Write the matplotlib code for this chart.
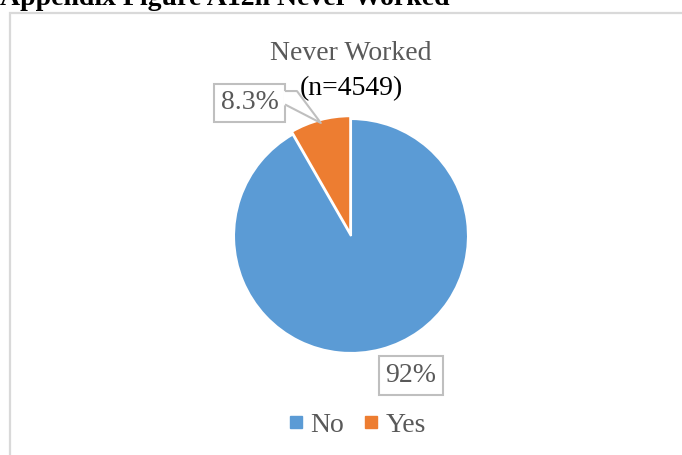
import numpy as np
import matplotlib.pyplot as plt
from matplotlib.patches import Rectangle, Polygon
from matplotlib.lines import Line2D

# data
categories = ['No', 'Yes']
shares = [91.7, 8.3]
label_text = ['92%', '8.3%']
colors = ['#5b9bd5', '#ed7d31']

plt.rcParams['font.family'] = ['Liberation Serif', 'DejaVu Serif']

fig = plt.figure(figsize=(6.82, 4.55), dpi=100)

# chart frame (Excel style), runs off the right/bottom edge
fig.patches.append(Rectangle((10 / 682, -0.1), 1.0, 1 - 13 / 455 + 0.1,
                             transform=fig.transFigure, fill=False,
                             edgecolor='#d9d9d9', linewidth=1.6, zorder=0))

# cut-off caption above the chart
fig.text(0.0, 1 - 5 / 455, 'Appendix Figure A12n Never Worked', fontsize=20,
         fontweight='bold', ha='left', va='baseline', color='black')

fig.text(0.515, 1 - 60 / 455, 'Never Worked', fontsize=20, ha='center',
         va='baseline', color='#595959')
fig.text(0.515, 1 - 95 / 455, '(n=4549)', fontsize=20, ha='center',
         va='baseline', color='black')

ax = fig.add_axes([(351 - 117) / 682, (455 - 353) / 455, 234 / 682, 234 / 455])
wedges, _ = ax.pie(shares, colors=colors, startangle=90, counterclock=False,
                   explode=[0, 0.025], radius=1.0,
                   wedgeprops=dict(edgecolor='white', linewidth=1.5))
ax.set_xlim(-1, 1)
ax.set_ylim(-1, 1)
ax.set_aspect('auto')
ax.axis('off')

box = dict(boxstyle='square,pad=0.25', fc='white', ec='#bfbfbf', lw=1.5)

# 92% label
ax.text(0.513, -1.19, label_text[0], fontsize=20, color='#595959',
        ha='center', va='center', bbox=box, clip_on=False)

# 8.3% callout box with pointer to the slice
w = wedges[1]
mid = np.deg2rad((w.theta1 + w.theta2) / 2)
tip = (1.0 * np.cos(mid), 1.0 * np.sin(mid))
bx, by = -0.868, 1.137
ax.text(bx, by, label_text[1], fontsize=20, color='#595959',
        ha='center', va='center', bbox=box, clip_on=False, zorder=5)
right = -0.556
pts = [(right, 1.239), (right + 0.094, 1.239), tip, (right, 1.12)]
ax.add_patch(Polygon([(right - 0.02, 1.239)] + pts[1:3] + [(right - 0.02, 1.12)],
                     closed=True, fc='white', ec='none', zorder=6, clip_on=False))
ax.add_line(Line2D([p[0] for p in pts], [p[1] for p in pts], color='#bfbfbf',
                   lw=1.5, zorder=7, clip_on=False))

handles = [Line2D([], [], marker='s', linestyle='none', color=c, markersize=9)
           for c in colors]
fig.legend(handles, categories, loc='center', bbox_to_anchor=(0.524, 1 - 425 / 455),
           ncol=2, frameon=False, fontsize=20, handletextpad=0.25,
           columnspacing=0.75, labelcolor='#595959', handlelength=0.5)

fig.savefig('out.png', dpi=100)
